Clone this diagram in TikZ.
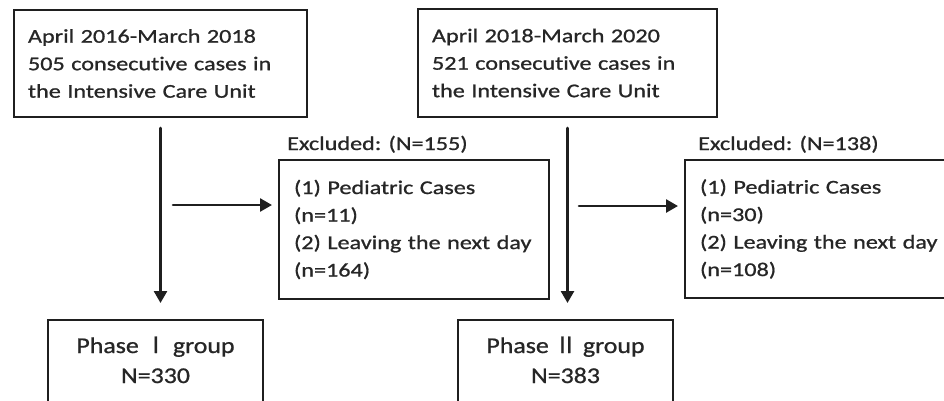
\documentclass[tikz,border=0pt]{standalone}
\usepackage{fontspec}
\setmainfont[FakeStretch=1.24,FakeBold=0.9,RawFeature=-liga]{Carlito}
\newfontfamily\groupfont[FakeStretch=1.15,FakeBold=0.9,RawFeature=-liga]{Carlito}
\newfontfamily\numfont[FakeBold=0.9]{Noto Sans CJK JP}
\usetikzlibrary{arrows.meta}

\begin{document}
\begin{tikzpicture}
		[x=1pt,y=-1pt,line cap=round,
		%Styles
		box/.style={draw=linecolor,line width=2pt,text=textcolor,inner xsep=14pt,inner ysep=0pt,
			anchor=north west,align=left,font=\fontsize{19.5}{27.5}\selectfont},
		group box/.style={box,anchor=north,align=center,minimum width=215pt,text height=63pt,text depth=25pt,
			font=\groupfont\fontsize{22.5}{30}\selectfont},
		excluded text/.style={text=textcolor,anchor=base west,inner sep=0pt,font=\fontsize{19.5}{27.5}\selectfont},
		flow/.style={draw=linecolor,line width=2.6pt,-{Triangle[length=12pt,width=13pt]}}
		]
		
		%Colors
		\colorlet{linecolor}{black!88}
		\colorlet{textcolor}{black!85}
		
		\path[use as bounding box,clip] (0,0) rectangle (944,400);
		
		%The graphic
		\node[box,text width=265pt,minimum height=107pt] (per1) at (13,9)
			{April 2016-March 2018\\505 consecutive cases in\\the Intensive Care Unit};
		\node[box,text width=271pt,minimum height=108pt] (per2) at (417,8)
			{April 2018-March 2020\\521 consecutive cases in\\the Intensive Care Unit};
		
		\node[box,inner xsep=15pt,text width=240pt,minimum height=139pt] (exc1) at (278,159)
			{(1) Pediatric Cases\\(n=11)\\(2) Leaving the next day\\(n=164)};
		\node[box,inner xsep=15pt,text width=250pt,minimum height=138pt] (exc2) at (684,159)
			{(1) Pediatric Cases\\(n=30)\\(2) Leaving the next day\\(n=108)};
		\node[excluded text] (lab1) at (287,150) {Excluded: (N=155)};
		\node[excluded text] (lab2) at (698,150) {Excluded: (N=138)};
		
		\node[group box] (grp1) at (155.5,319) {Phase {\numfont Ⅰ} group\\N=330};
		\node[group box] (grp2) at (565.5,319) {Phase {\numfont Ⅱ} group\\N=383};
		
		\coordinate (fork1) at (173,205);
		\coordinate (fork2) at (579,206);
		
		\draw[flow] ([yshift=-10pt]per1.south) -- ([yshift=16pt]per1.south |- grp1.north);
		\draw[flow] ([yshift=-10pt]per2.south) -- ([yshift=16pt]per2.south |- grp2.north);
		\draw[flow] (fork1) -- ([xshift=-6pt]fork1 -| exc1.west);
		\draw[flow] (fork2) -- ([xshift=-6pt]fork2 -| exc2.west);
	\end{tikzpicture}
\end{document}
